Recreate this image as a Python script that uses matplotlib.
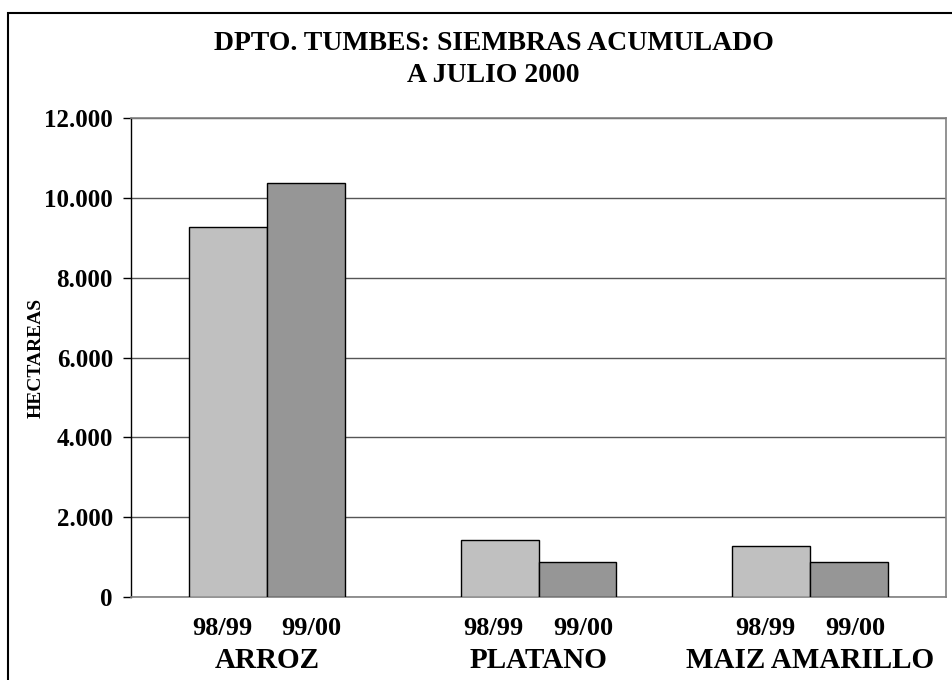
import numpy as np
import matplotlib.pyplot as plt
from matplotlib.patches import Rectangle
from matplotlib.ticker import FuncFormatter

plt.rcParams['font.family'] = ['Liberation Serif', 'DejaVu Serif']
plt.rcParams['font.weight'] = 'bold'

# data (hectareas)
cultivos = ['ARROZ', 'PLATANO', 'MAIZ AMARILLO']
campanas = ['98/99', '99/00']
siembras_9899 = [9280, 1430, 1260]
siembras_9900 = [10370, 880, 860]
colores = ['#c0c0c0', '#969696']

fig = plt.figure(figsize=(9.52, 6.8), dpi=100)
ax = fig.add_axes([131 / 952, 1 - 596.7 / 680, 815 / 952, 478.4 / 680])

# outer frame around the chart
fig.patches.append(Rectangle((8 / 952, -0.2), 1.2, 1.2 - 13 / 680, transform=fig.transFigure,
                             fill=False, edgecolor='black', linewidth=1.5))

x = np.arange(len(cultivos))
w = 0.286
ax.bar(x - w / 2, siembras_9899, w, color=colores[0], edgecolor='black', linewidth=1, zorder=3)
ax.bar(x + w / 2, siembras_9900, w, color=colores[1], edgecolor='black', linewidth=1, zorder=3)

ax.set_xlim(-0.5, 2.5)
ax.set_ylim(0, 12000)
ax.set_yticks(np.arange(0, 12001, 2000))
ax.yaxis.set_major_formatter(FuncFormatter(lambda v, p: f'{int(v):,}'.replace(',', '.')))
ax.grid(axis='y', color='#555555', linewidth=1, zorder=0)
ax.tick_params(axis='y', direction='out', length=6, width=1, labelsize=18, pad=7)
ax.tick_params(axis='x', length=0)
ax.set_xticks([])

for s in ['top', 'right', 'bottom']:
    ax.spines[s].set_color('#808080')
    ax.spines[s].set_linewidth(1.2)
ax.spines['left'].set_color('black')
ax.spines['left'].set_linewidth(1)

for i, c in enumerate(cultivos):
    for j, camp in enumerate(campanas):
        ax.text(x[i] + (j - 0.5) * 1.15 * w, -800, camp, ha='center', va='center',
                fontsize=19, fontweight='bold', clip_on=False)
    ax.text(x[i], -1600, c, ha='center', va='center', fontsize=21,
            fontweight='bold', clip_on=False)

ax.set_ylabel('HECTAREAS', fontsize=14, fontweight='bold')
ax.yaxis.set_label_coords(-0.106, 0.5)
fig.text(0.5185, 1 - 44 / 680, 'DPTO. TUMBES: SIEMBRAS ACUMULADO', ha='center', va='center',
         fontsize=20, fontweight='bold')
fig.text(0.5185, 1 - 76 / 680, 'A JULIO 2000', ha='center', va='center',
         fontsize=20, fontweight='bold')

fig.savefig('out.png', dpi=100)
